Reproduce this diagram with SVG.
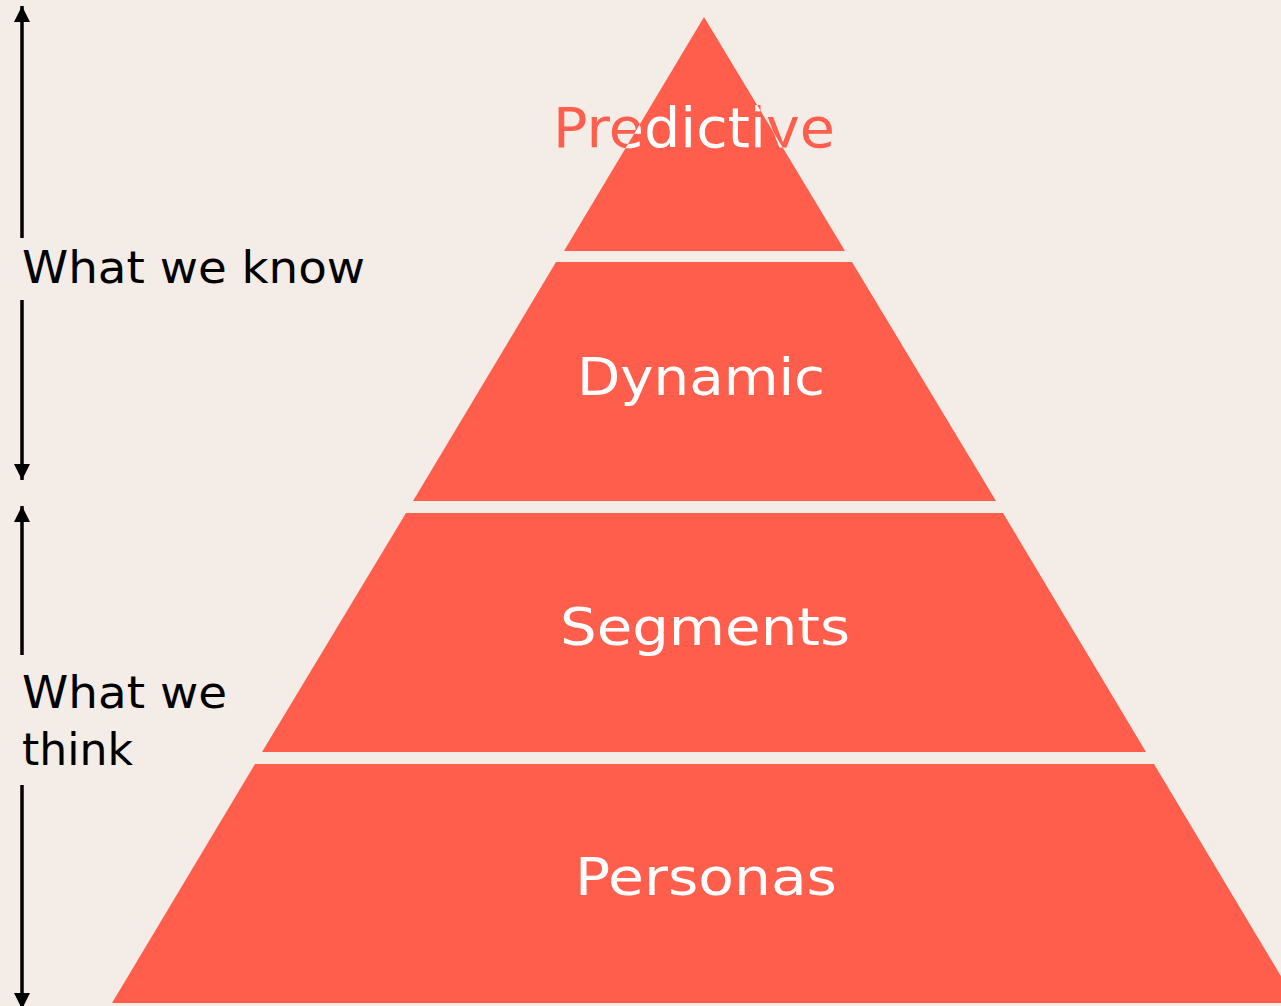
<svg xmlns="http://www.w3.org/2000/svg" width="1281" height="1006" viewBox="0 0 1281 1006">
  <style>
    .tier { fill: #FF5E4D; }
    .label { font-family: "DejaVu Sans", "Noto Sans", sans-serif; font-size: 51px; fill: #FFFFFF; }
    .side { font-family: "DejaVu Sans", "Noto Sans", sans-serif; font-size: 45px; fill: #000000; }
    .axis { stroke: #000000; stroke-width: 3.5; fill: none; }
  </style>
  <defs>
    <marker id="head" viewBox="0 0 16 16" markerWidth="16" markerHeight="16" refX="16" refY="8" markerUnits="userSpaceOnUse" orient="auto-start-reverse">
      <path d="M0,0 L16,8 L0,16 z" fill="#000000"/>
    </marker>
    <clipPath id="apexClip">
      <polygon points="704,17 845,251 564,251"/>
    </clipPath>
  </defs>

  <rect width="1281" height="1006" fill="#F4ECE6"/>

  <!-- side scale arrows -->
  <g id="connectors">
    <line class="axis" x1="22" y1="6" x2="22" y2="238" marker-start="url(#head)"/>
    <line class="axis" x1="22" y1="300" x2="22" y2="480" marker-end="url(#head)"/>
    <line class="axis" x1="22" y1="506" x2="22" y2="655" marker-start="url(#head)"/>
    <line class="axis" x1="22" y1="785" x2="22" y2="1009" marker-end="url(#head)"/>
  </g>

  <g id="label-know">
    <text class="side" x="22" y="283" textLength="343" lengthAdjust="spacingAndGlyphs">What we know</text>
  </g>
  <g id="label-think">
    <text class="side" x="22" y="708" textLength="205" lengthAdjust="spacingAndGlyphs">What we</text>
    <text class="side" x="22" y="765" textLength="111" lengthAdjust="spacingAndGlyphs">think</text>
  </g>

  <!-- pyramid tiers, top to bottom -->
  <g id="tier-predictive">
    <polygon class="tier" points="704,17 845,251 564,251"/>
    <text class="label" x="553" y="147" style="font-size:55px; fill:#FF5E4D" textLength="282" lengthAdjust="spacingAndGlyphs">Predictive</text>
    <text class="label" x="553" y="147" style="font-size:55px" clip-path="url(#apexClip)" textLength="282" lengthAdjust="spacingAndGlyphs">Predictive</text>
  </g>
  <g id="tier-dynamic">
    <polygon class="tier" points="556,262 852,262 996,501 413,501"/>
    <text class="label" x="577" y="395" textLength="248" lengthAdjust="spacingAndGlyphs">Dynamic</text>
  </g>
  <g id="tier-segments">
    <polygon class="tier" points="406,513 1003,513 1146,752 262,752"/>
    <text class="label" x="560" y="645" textLength="290" lengthAdjust="spacingAndGlyphs">Segments</text>
  </g>
  <g id="tier-personas">
    <polygon class="tier" points="255,764 1154,764 1297,1003 112,1003"/>
    <text class="label" x="575" y="895" textLength="262" lengthAdjust="spacingAndGlyphs">Personas</text>
  </g>
</svg>
